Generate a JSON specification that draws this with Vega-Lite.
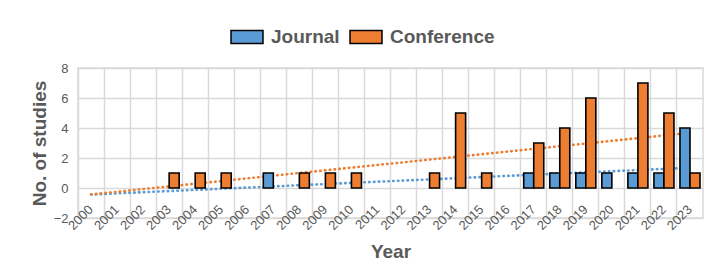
{
  "$schema": "https://vega.github.io/schema/vega-lite/v6.json",
  "autosize": {"type": "none"},
  "padding": {"left": 78, "top": 68, "right": 10, "bottom": 61},
  "width": 625,
  "height": 150,
  "background": "white",
  "config": {
    "font": "Liberation Sans",
    "view": {"stroke": "#d9d9d9", "strokeWidth": 1.5},
    "axis": {"gridColor": "#d9d9d9", "gridWidth": 1.5, "labelColor": "#595959", "titleColor": "#595959", "labelFont": "Liberation Sans", "titleFont": "Liberation Sans"}
  },
  "data": {
    "values": [
      {"Year": 2000, "Type": "Journal", "Count": 0}, {"Year": 2000, "Type": "Conference", "Count": 0},
      {"Year": 2001, "Type": "Journal", "Count": 0}, {"Year": 2001, "Type": "Conference", "Count": 0},
      {"Year": 2002, "Type": "Journal", "Count": 0}, {"Year": 2002, "Type": "Conference", "Count": 0},
      {"Year": 2003, "Type": "Journal", "Count": 0}, {"Year": 2003, "Type": "Conference", "Count": 1},
      {"Year": 2004, "Type": "Journal", "Count": 0}, {"Year": 2004, "Type": "Conference", "Count": 1},
      {"Year": 2005, "Type": "Journal", "Count": 0}, {"Year": 2005, "Type": "Conference", "Count": 1},
      {"Year": 2006, "Type": "Journal", "Count": 0}, {"Year": 2006, "Type": "Conference", "Count": 0},
      {"Year": 2007, "Type": "Journal", "Count": 1}, {"Year": 2007, "Type": "Conference", "Count": 0},
      {"Year": 2008, "Type": "Journal", "Count": 0}, {"Year": 2008, "Type": "Conference", "Count": 1},
      {"Year": 2009, "Type": "Journal", "Count": 0}, {"Year": 2009, "Type": "Conference", "Count": 1},
      {"Year": 2010, "Type": "Journal", "Count": 0}, {"Year": 2010, "Type": "Conference", "Count": 1},
      {"Year": 2011, "Type": "Journal", "Count": 0}, {"Year": 2011, "Type": "Conference", "Count": 0},
      {"Year": 2012, "Type": "Journal", "Count": 0}, {"Year": 2012, "Type": "Conference", "Count": 0},
      {"Year": 2013, "Type": "Journal", "Count": 0}, {"Year": 2013, "Type": "Conference", "Count": 1},
      {"Year": 2014, "Type": "Journal", "Count": 0}, {"Year": 2014, "Type": "Conference", "Count": 5},
      {"Year": 2015, "Type": "Journal", "Count": 0}, {"Year": 2015, "Type": "Conference", "Count": 1},
      {"Year": 2016, "Type": "Journal", "Count": 0}, {"Year": 2016, "Type": "Conference", "Count": 0},
      {"Year": 2017, "Type": "Journal", "Count": 1}, {"Year": 2017, "Type": "Conference", "Count": 3},
      {"Year": 2018, "Type": "Journal", "Count": 1}, {"Year": 2018, "Type": "Conference", "Count": 4},
      {"Year": 2019, "Type": "Journal", "Count": 1}, {"Year": 2019, "Type": "Conference", "Count": 6},
      {"Year": 2020, "Type": "Journal", "Count": 1}, {"Year": 2020, "Type": "Conference", "Count": 0},
      {"Year": 2021, "Type": "Journal", "Count": 1}, {"Year": 2021, "Type": "Conference", "Count": 7},
      {"Year": 2022, "Type": "Journal", "Count": 1}, {"Year": 2022, "Type": "Conference", "Count": 5},
      {"Year": 2023, "Type": "Journal", "Count": 4}, {"Year": 2023, "Type": "Conference", "Count": 1}
    ]
  },
  "encoding": {
    "x": {
      "field": "Year", "type": "ordinal",
      "scale": {"domain": [2000, 2001, 2002, 2003, 2004, 2005, 2006, 2007, 2008, 2009, 2010, 2011, 2012, 2013, 2014, 2015, 2016, 2017, 2018, 2019, 2020, 2021, 2022, 2023], "paddingInner": 0, "paddingOuter": 0},
      "axis": {
        "bandPosition": 0, "grid": true, "domain": false, "ticks": false, "tickSize": 0,
        "labelAngle": -45, "labelAlign": "right", "labelBaseline": "middle",
        "labelPadding": -11, "labelOffset": 0, "labelFontSize": 13,
        "labelOverlap": false, "labelBound": false,
        "title": "Year", "titleFontSize": 19, "titleFontWeight": "bold",
        "titleX": 312.5, "titleY": 39, "titleBaseline": "alphabetic", "titleAlign": "center"
      }
    },
    "y": {
      "field": "Count", "type": "quantitative",
      "scale": {"domain": [-2, 8], "nice": false, "zero": false},
      "axis": {
        "values": [-2, 0, 2, 4, 6, 8], "grid": true, "domain": false, "ticks": false,
        "labelFontSize": 13, "labelPadding": 10,
        "title": "No. of studies", "titleFontSize": 19, "titleFontWeight": "bold",
        "titleX": -33, "titleY": 75, "titleBaseline": "alphabetic", "titleAlign": "center", "titleAngle": -90
      }
    }
  },
  "layer": [
    {
      "transform": [{"filter": "datum.Type == 'Journal'"}, {"regression": "Count", "on": "Year"}],
      "mark": {"type": "line", "stroke": "#5B9BD5", "strokeDash": [0.5, 4.3], "strokeCap": "round", "strokeWidth": 2.6},
      "encoding": {}
    },
    {
      "transform": [{"filter": "datum.Type == 'Conference'"}, {"regression": "Count", "on": "Year"}],
      "mark": {"type": "line", "stroke": "#ED7D31", "strokeDash": [0.5, 4.3], "strokeCap": "round", "strokeWidth": 2.6},
      "encoding": {}
    },
    {
      "transform": [{"filter": "datum.Count > 0"}],
      "mark": {"type": "bar", "stroke": "black", "strokeWidth": 1.6},
      "encoding": {
        "xOffset": {"field": "Type", "type": "nominal", "scale": {"domain": ["Journal", "Conference"], "paddingInner": 0, "paddingOuter": 0.3}},
        "fill": {
          "field": "Type", "type": "nominal",
          "scale": {"domain": ["Journal", "Conference"], "range": ["#5B9BD5", "#ED7D31"]},
          "legend": {
            "orient": "none", "legendX": 155, "legendY": -45, "direction": "horizontal", "title": null,
            "symbolType": "M-1.23,-0.5H1.23V0.5H-1.23Z", "symbolSize": 676,
            "symbolStrokeColor": "black", "symbolStrokeWidth": 1.5,
            "labelFontSize": 19, "labelFont": "Liberation Sans", "labelFontWeight": "bold", "labelColor": "#595959",
            "labelOffset": 10, "columnPadding": 7,
            "encode": {"symbols": {"update": {"stroke": {"value": "black"}, "strokeWidth": {"value": 1.5}}}}
          }
        }
      }
    }
  ]
}
